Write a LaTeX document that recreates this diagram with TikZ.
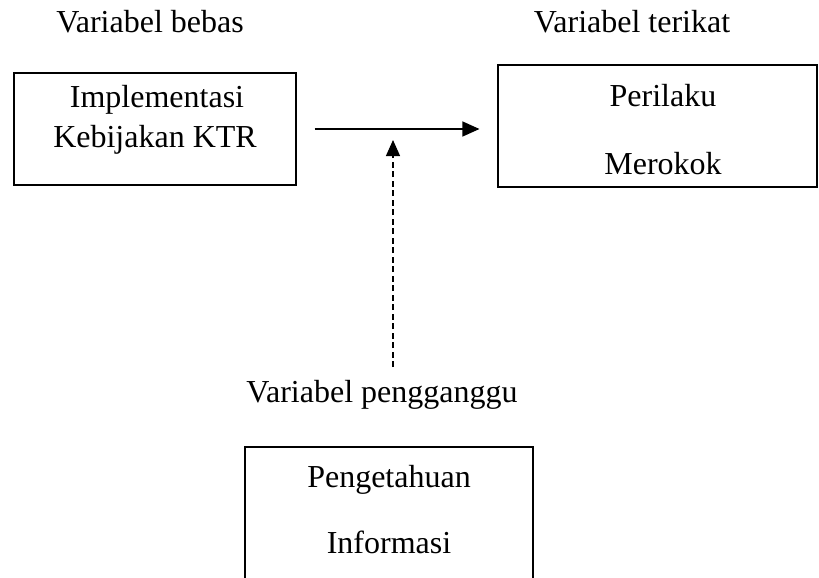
\documentclass[tikz,border=0pt]{standalone}
\usepackage{fontspec}
\setmainfont{Liberation Serif}
\usetikzlibrary{arrows.meta}

\begin{document}
\begin{tikzpicture}[x=1pt,y=-1pt,
	kotak/.style={draw,line width=1.1pt,inner sep=0pt},
	teks/.style={anchor=base,inner sep=0pt,font=\fontsize{32}{40}\selectfont},
	panah/.style={line width=1.3pt,-{Triangle[length=17pt,width=15pt]}},
	panahputus/.style={line width=1.2pt,dash pattern=on 6pt off 3.5pt,-{Triangle[length=16pt,width=14pt]}}]
	\useasboundingbox (0,0) rectangle (819,578);
	
	\node[teks] (bebas) at (150,33) {Variabel bebas};
	\node[teks] (terikat) at (632,33) {Variabel terikat};
	
	\node[kotak,minimum width=282pt,minimum height=112pt] (ktr) at (155,129) {};
	\node[teks] (implementasi) at (157,107) {Implementasi};
	\node[teks] (kebijakan) at (155,147) {Kebijakan KTR};
	
	\node[kotak,minimum width=319pt,minimum height=122pt] (perilaku) at (657.5,126) {};
	\node[teks] (perilakutxt) at (663,106) {Perilaku};
	\node[teks] (merokok) at (663,174) {Merokok};
	
	\draw[panah] ([xshift=18pt]ktr.east) -- ([xshift=-18pt]ktr.east -| perilaku.west);
	
	\node[teks] (pengganggu) at (382,402) {Variabel pengganggu};
	\coordinate (ganggubawah) at (393,367);
	\coordinate (gangguatas) at (393,140);
	\draw[panahputus] (ganggubawah) -- (gangguatas);
	
	\draw[line width=1.1pt] (245,578) -- (245,447) -- (533,447) -- (533,578);
	\node[teks] (pengetahuan) at (389,487) {Pengetahuan};
	\node[teks] (informasi) at (389,553) {Informasi};
\end{tikzpicture}
\end{document}
